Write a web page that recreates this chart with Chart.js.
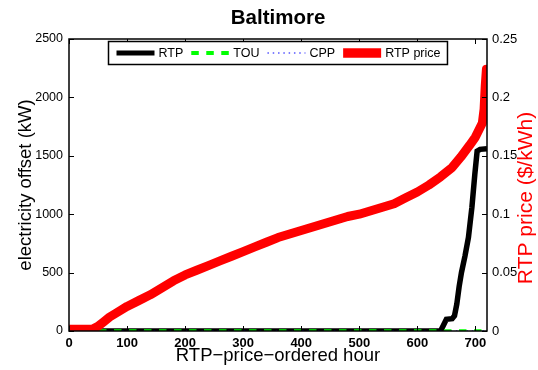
<!DOCTYPE html>
<html>
<head>
<meta charset="utf-8">
<title>Baltimore</title>
<script src="https://cdn.jsdelivr.net/npm/chart.js@4.4.1/dist/chart.umd.min.js"></script>
<style>
  html, body { margin: 0; padding: 0; background: #fff; }
  canvas { display: block; }
</style>
</head>
<body>
<canvas id="chart" width="538" height="370"></canvas>
<script>
// hours sorted by RTP price, and the price at those hours ($/kWh)
const priceHours = [0, 20, 40, 50, 60, 70, 80, 100, 120, 140, 160, 180, 200, 220, 240, 260, 280, 300,
  320, 340, 360, 380, 400, 420, 440, 460, 480, 500, 520, 540, 560, 580, 600, 620, 640, 660,
  675, 690, 700, 706, 712, 715, 717, 719, 720];
const rtpPrice = [0.0015, 0.0015, 0.0015, 0.004, 0.008, 0.012, 0.015, 0.021, 0.026, 0.031, 0.037, 0.043,
  0.048, 0.052, 0.056, 0.060, 0.064, 0.068, 0.072, 0.076, 0.080, 0.083, 0.086, 0.089, 0.092, 0.095,
  0.098, 0.100, 0.103, 0.106, 0.109, 0.114, 0.119, 0.125, 0.132, 0.140, 0.149, 0.159, 0.166, 0.172,
  0.178, 0.190, 0.210, 0.224, 0.224];

// electricity offset under each tariff (kW)
const rtpHours = [0, 640, 645, 650, 660, 664, 668, 672, 676, 682, 688, 694, 699, 703, 708, 720];
const rtpOffset = [0, 0, 50, 100, 105, 130, 230, 380, 500, 640, 800, 1060, 1340, 1540, 1555, 1560];
const flatHours = [0, 720];
const touOffset = [0, 0];
const cppOffset = [0, 0];

// axis ticks
const hourTicks = [0, 100, 200, 300, 400, 500, 600, 700];
const offsetTicks = [0, 500, 1000, 1500, 2000, 2500];
const priceTicks = [0, 0.05, 0.1, 0.15, 0.2, 0.25];

const FONT = "'Liberation Sans', Arial, Helvetica, sans-serif";

function toPoints(xs, ys) {
  return xs.map((x, i) => ({ x: x, y: ys[i] }));
}

// box with inward tick marks on all four sides
const axesFrame = {
  id: 'axesFrame',
  afterDatasetsDraw(chart) {
    const { ctx, chartArea: a, scales } = chart;
    ctx.save();
    ctx.strokeStyle = '#000';
    ctx.lineWidth = 1;
    ctx.beginPath();
    scales.x.ticks.forEach(t => {
      const px = Math.round(scales.x.getPixelForValue(t.value)) + 0.5;
      ctx.moveTo(px, a.bottom); ctx.lineTo(px, a.bottom - 5);
      ctx.moveTo(px, a.top); ctx.lineTo(px, a.top + 5);
    });
    scales.y.ticks.forEach(t => {
      const py = Math.round(scales.y.getPixelForValue(t.value)) + 0.5;
      ctx.moveTo(a.left, py); ctx.lineTo(a.left + 5, py);
    });
    scales.y1.ticks.forEach(t => {
      const py = Math.round(scales.y1.getPixelForValue(t.value)) + 0.5;
      ctx.moveTo(a.right, py); ctx.lineTo(a.right - 5, py);
    });
    ctx.stroke();
    ctx.lineWidth = 1.5;
    ctx.strokeRect(a.left, a.top, a.right - a.left, a.bottom - a.top);
    ctx.restore();
  }
};

// legend inside the top of the plot, plus the red right-hand axis title
const boxLegend = {
  id: 'boxLegend',
  afterDraw(chart) {
    const { ctx, chartArea: a } = chart;
    const sets = chart.data.datasets;
    const left = a.left + 39.5, top = a.top + 2.5, height = 23;
    const cy = top + height / 2;
    ctx.save();
    ctx.font = '12.5px ' + FONT;
    ctx.textBaseline = 'middle';

    // measure first so the box fits the entries
    let x = left + 8;
    const items = sets.map(ds => {
      const item = { ds: ds, x: x };
      x += 42 + ctx.measureText(ds.label).width + 8;
      return item;
    });
    const width = x - 1 - left;

    ctx.fillStyle = '#fff';
    ctx.fillRect(left, top, width, height);
    ctx.strokeStyle = '#000';
    ctx.lineWidth = 1.5;
    ctx.strokeRect(left, top, width, height);

    items.forEach(it => {
      const ds = it.ds;
      ctx.beginPath();
      ctx.strokeStyle = ds.borderColor;
      ctx.lineWidth = ds.legendWidth;
      ctx.setLineDash(ds.borderDash || []);
      ctx.lineCap = 'butt';
      ctx.moveTo(it.x, cy);
      ctx.lineTo(it.x + 38, cy);
      ctx.stroke();
      ctx.setLineDash([]);
      ctx.fillStyle = '#000';
      ctx.fillText(ds.label, it.x + 42, cy + 0.5);
    });

    // right axis title reads bottom to top like the left one
    ctx.translate(526, 198);
    ctx.rotate(-Math.PI / 2);
    ctx.font = '21px ' + FONT;
    ctx.fillStyle = '#ff0000';
    ctx.textAlign = 'center';
    ctx.fillText('RTP price ($/kWh)', 0, 0);
    ctx.restore();
  }
};

const ctx = document.getElementById('chart').getContext('2d');
const chart = new Chart(ctx, {
  type: 'line',
  data: {
    datasets: [
      {
        label: 'RTP',
        data: toPoints(rtpHours, rtpOffset),
        yAxisID: 'y',
        borderColor: '#000000',
        borderWidth: 5.5,
        legendWidth: 5,
        order: 3
      },
      {
        label: 'TOU',
        data: toPoints(flatHours, touOffset),
        yAxisID: 'y',
        borderColor: '#00ff00',
        borderWidth: 3.5,
        borderDash: [7.5, 7.5],
        legendWidth: 4,
        order: 1
      },
      {
        label: 'CPP',
        data: toPoints(flatHours, cppOffset),
        yAxisID: 'y',
        borderColor: '#0000ff',
        borderWidth: 1.2,
        borderDash: [1.5, 3.8],
        legendWidth: 1.2,
        order: 2
      },
      {
        label: 'RTP price',
        data: toPoints(priceHours, rtpPrice),
        yAxisID: 'y1',
        borderColor: '#ff0000',
        borderWidth: 9,
        legendWidth: 9.5,
        borderJoinStyle: 'round',
        order: 0
      }
    ]
  },
  options: {
    responsive: false,
    animation: false,
    events: [],
    layout: { padding: 0 },
    elements: {
      point: { radius: 0 },
      line: { tension: 0, fill: false }
    },
    plugins: {
      legend: { display: false },
      tooltip: { enabled: false },
      title: {
        display: true,
        fullSize: false,
        text: 'Baltimore',
        color: '#000',
        font: { family: FONT, size: 20.5, weight: 'bold' },
        padding: { top: 6, bottom: 8.4 }
      }
    },
    scales: {
      x: {
        type: 'linear',
        min: 0,
        max: 720,
        afterBuildTicks: s => { s.ticks = hourTicks.map(v => ({ value: v })); },
        afterFit: s => { s.height = 39; },
        grid: { display: false, drawTicks: false },
        border: { display: false },
        ticks: {
          color: '#000',
          padding: 5,
          maxRotation: 0,
          font: { family: FONT, size: 13, weight: 'bold' },
          callback: v => String(v)
        },
        title: {
          display: true,
          text: 'RTP\u2212price\u2212ordered hour',
          color: '#000',
          font: { family: FONT, size: 18.5 },
          padding: { top: 0, bottom: 3 }
        }
      },
      y: {
        position: 'left',
        min: 0,
        max: 2500,
        afterBuildTicks: s => { s.ticks = offsetTicks.map(v => ({ value: v })); },
        afterFit: s => { s.width = 69; },
        grid: { display: false, drawTicks: false },
        border: { display: false },
        ticks: {
          color: '#000',
          padding: 6,
          font: { family: FONT, size: 12.5 },
          callback: v => String(v)
        },
        title: {
          display: true,
          text: 'electricity offset (kW)',
          color: '#000',
          font: { family: FONT, size: 18.5 },
          padding: { top: 15, bottom: 0 }
        }
      },
      y1: {
        position: 'right',
        min: 0,
        max: 0.25,
        afterBuildTicks: s => { s.ticks = priceTicks.map(v => ({ value: v })); },
        afterFit: s => { s.width = 51; },
        grid: { display: false, drawTicks: false },
        border: { display: false },
        ticks: {
          color: '#000',
          padding: 5,
          font: { family: FONT, size: 13 },
          callback: v => String(+v.toFixed(2))
        }
      }
    }
  },
  plugins: [axesFrame, boxLegend]
});
</script>
</body>
</html>
